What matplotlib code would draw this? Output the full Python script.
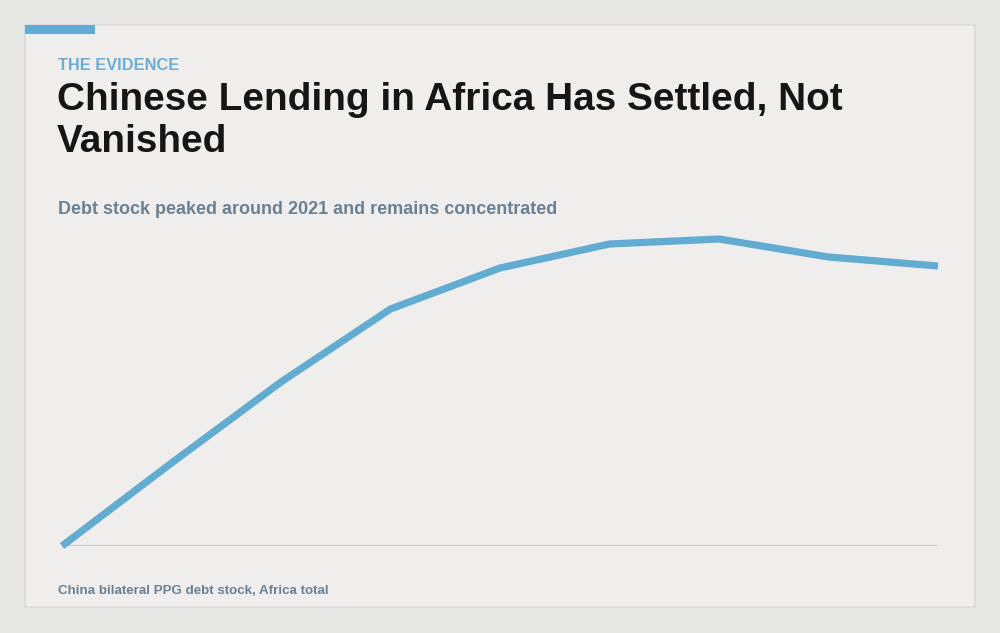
import matplotlib.pyplot as plt
from matplotlib.patches import Rectangle

# Data
years = [2015, 2016, 2017, 2018, 2019, 2020, 2021, 2022, 2023]
debt_stock = [0.0, 16.6, 32.8, 47.4, 55.6, 60.4, 61.4, 57.8, 56.0]

kicker = "THE EVIDENCE"
title = "Chinese Lending in Africa Has Settled, Not\nVanished"
subtitle = "Debt stock peaked around 2021 and remains concentrated"
source = "China bilateral PPG debt stock, Africa total"

blue = "#62abd1"
muted = "#6a8193"

W, H = 1000, 633
fig = plt.figure(figsize=(W / 100, H / 100), dpi=100, facecolor="#e8e8e7")
plt.rcParams["font.family"] = ["Liberation Sans", "DejaVu Sans"]

# card
bg = fig.add_axes([0, 0, 1, 1])
bg.set_xlim(0, W)
bg.set_ylim(H, 0)
bg.axis("off")
bg.add_patch(Rectangle((25, 25), 950, 582, facecolor="#efeeed", edgecolor="#d9d9d8", lw=1.2))
bg.add_patch(Rectangle((25, 25), 70, 9, facecolor=blue, edgecolor="none"))

bg.text(58, 70, kicker, fontsize=11.8, fontweight="bold", color="#6aaed6", va="baseline")
bg.text(57, 152, title, fontsize=27.9, fontweight="bold", color="#161616",
        va="baseline", linespacing=1.22)
bg.text(58, 214, subtitle, fontsize=13, fontweight="bold", color=muted, va="baseline")
bg.text(58, 594, source, fontsize=9.6, fontweight="bold", color=muted, va="baseline")

# chart
ax = fig.add_axes([62 / W, 1 - 546 / H, (938 - 62) / W, (546 - 239) / H])
ax.set_facecolor("none")
ax.plot(years, debt_stock, color=blue, lw=5.2, solid_capstyle="butt",
        solid_joinstyle="miter", clip_on=False, zorder=3)
ax.axhline(0, color="#c6c6c6", lw=2.2, zorder=2)
ax.set_xlim(years[0], years[-1])
ax.set_ylim(0, max(debt_stock))
ax.axis("off")

fig.savefig("out.png", dpi=100, facecolor=fig.get_facecolor())
